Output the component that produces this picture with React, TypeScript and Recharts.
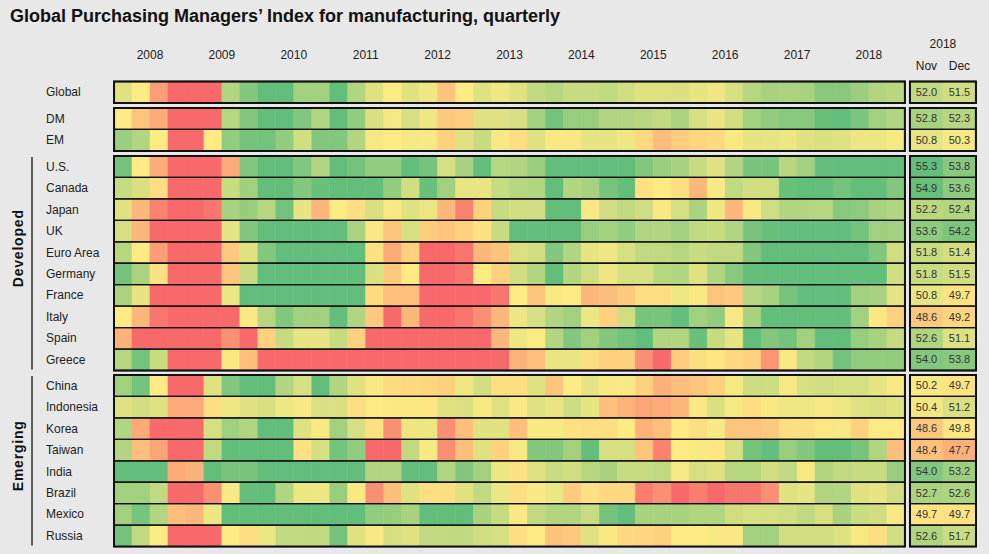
import { BarChart, Bar, XAxis, YAxis, Cell, LabelList, ReferenceArea } from "recharts";

const TITLE = "Global Purchasing Managers’ Index for manufacturing, quarterly";
const YEARS = ["2008", "2009", "2010", "2011", "2012", "2013", "2014", "2015", "2016", "2017", "2018"];
const MONTH_YEAR = "2018";
const MONTHS = ["Nov", "Dec"];

const ROWS = [
  "Global", "DM", "EM",
  "U.S.", "Canada", "Japan", "UK", "Euro Area", "Germany", "France", "Italy", "Spain", "Greece",
  "China", "Indonesia", "Korea", "Taiwan", "India", "Brazil", "Mexico", "Russia",
];

const NOV = [52.0, 52.8, 50.8, 55.3, 54.9, 52.2, 53.6, 51.8, 51.8, 50.8, 48.6, 52.6, 54.0, 50.2, 50.4, 48.6, 48.4, 54.0, 52.7, 49.7, 52.6];
const DEC = [51.5, 52.3, 50.3, 53.8, 53.6, 52.4, 54.2, 51.4, 51.5, 49.7, 49.2, 51.1, 53.8, 49.7, 51.2, 49.8, 47.7, 53.2, 52.6, 49.7, 51.7];

// quarterly PMI, 2008 Q1 .. 2018 Q4
const Q_GLOBAL = [51, 50, 47, 44, 44, 44.5, 52.5, 54, 55, 55, 53, 53, 55, 52.5, 51, 50, 51, 50.5, 48.5, 50, 51, 50.5, 51, 52, 52.3, 51.8, 51.8, 52, 51.5, 51, 51, 51.2, 50.8, 50.5, 51.3, 52.3, 52.8, 52.7, 52.8, 53.8, 53.8, 53.2, 52.5, 52.2];
const Q_DM = [50, 48.5, 47.5, 44, 44, 44, 52.3, 54, 55, 55, 54, 52.5, 55, 53.5, 51.2, 50.3, 51.3, 50.5, 48.7, 48.8, 51, 51, 51.3, 53, 54.5, 53.3, 53.3, 52.5, 52.5, 52.2, 52, 52.7, 51.3, 50.7, 51.5, 53, 53.5, 53.8, 53.8, 54.8, 55, 54.2, 53, 52.5];
const Q_EM = [53.2, 52.5, 50, 44, 44, 50, 53.5, 54.5, 54.5, 53.5, 51.5, 54, 54, 52.5, 50.3, 50, 50.3, 50.2, 49, 51, 51.8, 50.3, 49.5, 51, 50.2, 50.2, 50.8, 50.8, 50.5, 49.3, 48.2, 48.8, 49.2, 49.3, 50.2, 50.8, 50.8, 50.6, 51, 51.2, 51, 50.6, 50.6, 50.3];
const Q_US = [54.5, 50, 47.5, 44, 44, 44, 47.5, 54, 55, 55, 54, 52.5, 55, 54.5, 53.5, 53.5, 55, 54.5, 51.3, 52.8, 55, 52.3, 52.5, 53.2, 55, 55, 55, 55, 55, 54, 53.2, 52.8, 51.8, 51, 52.5, 54.3, 54.3, 52.3, 53, 55.5, 55.5, 55.5, 55.5, 55.5];
const Q_CANADA = [51.8, 51.2, 49.5, 44, 44, 45, 51.8, 53, 55, 55, 54, 54.8, 55, 55, 55, 53.5, 51.5, 54.8, 53, 50.7, 50.7, 51.8, 52.3, 52.5, 55, 52.5, 52.8, 54.3, 55, 49.6, 50, 49.5, 48, 50.2, 52, 51.5, 51.5, 54.8, 55, 55, 54.5, 55, 55, 54];
const Q_JAPAN = [51, 48, 46, 44, 44, 45.5, 52.8, 53.3, 52.3, 54.5, 50.8, 48, 50, 49.5, 51.2, 50.2, 51, 50.6, 48, 46, 49, 51.8, 51.5, 51.5, 55, 55, 50.2, 51.5, 52, 51.5, 50.2, 51.3, 52.7, 50.4, 48, 50.2, 51.5, 52.5, 52.5, 52.3, 53.8, 53.6, 52.8, 52.5];
const Q_UK = [51.3, 48, 44, 44, 44, 44, 50.8, 54, 55, 55, 55, 55, 55, 52.7, 50.2, 48.5, 51.3, 48.8, 48.5, 49, 49.6, 51.8, 55, 55, 55, 55, 53.3, 53, 53.5, 52.5, 52.5, 53, 52, 51.8, 52.5, 54.3, 54.8, 55, 55, 55, 55, 54.5, 53, 53];
const Q_EURO = [52.3, 50, 47, 44, 44, 44, 48.7, 51, 54, 55, 55, 55, 55, 55, 49.6, 47.5, 49, 44.5, 44.5, 45.5, 48, 48.5, 51.2, 51.5, 54, 52.5, 50.8, 50.5, 51.3, 52, 52, 52.3, 51.8, 52, 52, 54, 55.5, 55.5, 55.5, 55.5, 55.5, 55.5, 54, 51.5];
const Q_GERMANY = [54.5, 52.7, 49.6, 44, 44, 44, 48.5, 51.8, 55.5, 55.5, 55.5, 55.5, 55.5, 55.5, 51.2, 48.7, 50, 44.5, 44.5, 45.5, 50, 49, 51.5, 52.5, 55, 52.5, 51.5, 50.6, 51.3, 51.3, 52.3, 52.5, 51, 52.5, 53.8, 55.5, 55.5, 55.5, 55.5, 55.5, 55.5, 55.5, 55.5, 51.5];
const Q_FRANCE = [52.7, 50.8, 44.5, 44, 44, 44, 50.6, 55, 55, 55, 55, 55, 55, 55, 49.4, 48.3, 48.3, 45, 44.3, 44.3, 44.3, 45.5, 50, 48.5, 50.2, 50, 48, 48.2, 48.7, 49.5, 49.5, 50.5, 50.2, 48.5, 48.7, 52.3, 52.8, 54.3, 55, 55, 55, 53, 52.8, 50.8];
const Q_ITALY = [50, 48, 45.5, 44, 44, 44.5, 45, 50.2, 52.3, 54, 53, 53, 55, 52.5, 48.7, 44.5, 48, 44.5, 44.5, 45.5, 46.5, 48, 50.6, 51.3, 52.5, 53, 50.6, 49, 51.5, 54.3, 54.3, 55, 53, 53.5, 50.3, 52.8, 55, 55.5, 55.5, 55.5, 55.5, 53, 50.2, 49];
const Q_SPAIN = [47.8, 44, 44, 44, 44, 44, 46.5, 45, 49, 51.8, 50.8, 50.8, 51.8, 49, 44, 44, 44, 44, 44, 44, 45, 48, 50.6, 50, 52.5, 54, 53, 54, 54.5, 55, 52.5, 52.5, 54.8, 51.8, 50.8, 55, 54, 54.5, 53, 55, 55, 53.3, 52.8, 51.8];
const Q_GREECE = [52.3, 54.5, 51.8, 44, 44, 44, 50.2, 48.3, 44, 44, 44, 44, 44, 44.5, 44, 44, 44, 44, 44, 44, 44, 44, 47.8, 48.3, 50.7, 50.7, 49.5, 49, 49, 46.5, 44, 48.8, 49.5, 49.8, 49.3, 49, 46.7, 50.2, 52, 52.5, 54.5, 53.5, 53.5, 53.5];
const Q_CHINA = [53, 54.5, 50, 44, 44, 51, 54, 55, 55, 52.5, 51.3, 55, 52.5, 51, 50.2, 49.4, 49.3, 49.2, 49, 50.5, 51.4, 49.5, 49.5, 51, 48.5, 50, 50.8, 50.2, 50.2, 49, 47.8, 48.3, 48.5, 49, 50.3, 51.6, 51.6, 50.3, 51.3, 51.5, 51.3, 51.3, 50.8, 50.2];
const Q_INDONESIA = [51, 51.5, 51, 47.5, 47.5, 49.5, 50.5, 51, 51.2, 50.5, 50.2, 51.2, 51.2, 49.5, 50, 50.2, 50.2, 49.8, 51, 51.2, 50.3, 51, 50.2, 51, 50.7, 51.6, 50.8, 48.3, 47.8, 47.3, 47.5, 48, 50.2, 51.2, 50.3, 49.5, 50.2, 50.5, 50.5, 50.3, 50.5, 51, 51.2, 51];
const Q_KOREA = [52.5, 47.5, 44.5, 44, 44.5, 51.3, 53, 52.5, 55, 55, 51, 50.2, 53, 51.3, 49.6, 46.5, 50.6, 50.6, 46.5, 48.3, 51, 51, 48.3, 50.2, 50.2, 49.6, 49.5, 49.5, 50, 47.8, 48.3, 50, 49.5, 50.2, 48.5, 48.5, 48.7, 49.5, 49.5, 49.9, 50.2, 49, 50, 50];
const Q_TAIWAN = [52.5, 48.3, 47.3, 44, 44, 52, 55, 55, 55, 55, 49.6, 51.3, 54.5, 53.5, 44.3, 44.3, 52, 50.2, 46.5, 48.3, 51, 49, 50.2, 54, 54, 53, 55, 51.3, 51.3, 48.5, 46, 50, 50.2, 49.8, 51.3, 54.5, 55, 53.3, 54, 55.5, 55.5, 54.3, 52.5, 48.3];
const Q_INDIA = [55.5, 55.5, 55.5, 47.5, 47.8, 55, 54.3, 54.3, 55.5, 55.5, 55.5, 55.5, 55.5, 55.5, 52.5, 52.5, 55, 55, 52.5, 54, 53, 50.6, 49.6, 51, 51.7, 51.5, 52.3, 52.8, 51.8, 51.8, 52, 50.3, 51.3, 51, 52.3, 52.3, 51.5, 52, 50.3, 52.5, 52, 51.8, 51.8, 53.3];
const Q_BRAZIL = [53, 53, 52, 44, 44, 46.5, 50.2, 55, 55, 52.5, 50.6, 50.6, 53.3, 50.2, 46.5, 48.3, 51, 49.5, 49.5, 51, 52, 50.6, 49.5, 50.2, 50.6, 48.8, 49.6, 49.3, 49.3, 45.8, 46.5, 43.8, 45.8, 44, 45.5, 45.5, 46.5, 51, 50.8, 52.5, 52.5, 51, 50.8, 51.5];
const Q_MEXICO = [53, 54.3, 52.5, 48.3, 48, 50.6, 55, 55, 55, 55, 55, 55, 55, 55, 53.5, 53.3, 52.8, 55, 55, 55, 52.8, 51.8, 50.2, 52, 52.5, 52.5, 51.7, 54.5, 55, 52.8, 52.8, 52.8, 52.5, 52.5, 51.5, 51.3, 51.3, 51.5, 52, 51.3, 52.8, 51.7, 51.5, 50.2];
const Q_RUSSIA = [54.5, 52, 50, 44, 44, 45, 50, 49.5, 50.6, 52, 52, 52, 54.5, 51, 50.2, 51.3, 51, 52, 52, 52, 51.5, 51.3, 49.5, 50, 48.5, 48.7, 51, 50.2, 49.3, 49.2, 49, 50, 50, 50.2, 50.2, 53, 53, 51.5, 51.5, 51.5, 51, 50.3, 49.5, 51.5];

const QUARTERLY = [
  Q_GLOBAL, Q_DM, Q_EM,
  Q_US, Q_CANADA, Q_JAPAN, Q_UK, Q_EURO, Q_GERMANY, Q_FRANCE, Q_ITALY, Q_SPAIN, Q_GREECE,
  Q_CHINA, Q_INDONESIA, Q_KOREA, Q_TAIWAN, Q_INDIA, Q_BRAZIL, Q_MEXICO, Q_RUSSIA,
];

const GROUPS = [
  { rows: [0], title: "", shift: 0 },
  { rows: [1, 2], title: "", shift: 0 },
  { rows: [3, 4, 5, 6, 7, 8, 9, 10, 11, 12], title: "Developed", shift: -15 },
  { rows: [13, 14, 15, 16, 17, 18, 19, 20], title: "Emerging", shift: -5 },
];

// layout
const W = 989;
const H = 554;
const PLOT_LEFT = 114;
const PLOT_RIGHT = 976;
const NQ = 44;
const GAP_U = 0.28;
const MONTH_U = 1.836;
const TOTAL_U = NQ + GAP_U + 2 * MONTH_U;
const ROW_H = 21.45;
const BOX_TOPS = [81.5, 108, 156, 375];
const HEADER_TOP = 30;
const HEADER_H = 51.5;
const FONT = "'Liberation Sans', Arial, sans-serif";

function mix(a: number[], b: number[], t: number) {
  const c = a.map((v, i) => Math.round(v + (b[i] - v) * t));
  return `rgb(${c[0]},${c[1]},${c[2]})`;
}

const RED = [248, 105, 107];
const YEL = [255, 235, 132];
const GRN = [99, 190, 123];

function pmiColor(v: number) {
  if (v <= 50) return mix(RED, YEL, Math.max(0, (v - 45) / 5));
  return mix(YEL, GRN, Math.min(1, (v - 50) / 5));
}

const HEADER_TICKS = [
  ...YEARS.map((y, k) => ({ v: 4 * k + 2, text: y, dy: -22 })),
  { v: NQ + GAP_U + MONTH_U, text: MONTH_YEAR, dy: -33 },
  ...MONTHS.map((m, k) => ({ v: NQ + GAP_U + MONTH_U * (k + 0.5), text: m, dy: -11 })),
];

function HeaderTick(p: any) {
  const t = HEADER_TICKS.find((h) => Math.abs(h.v - p.payload.value) < 0.01);
  if (!t) return null;
  return (
    <text x={p.x} y={p.y + t.dy} textAnchor="middle" fontSize={12} fill="#222" fontFamily={FONT}>
      {t.text}
    </text>
  );
}

function RowTick(p: any) {
  return (
    <text x={p.x - 68} y={p.y} dy={4} textAnchor="start" fontSize={12} fill="#222" fontFamily={FONT}>
      {p.payload.value}
    </text>
  );
}

function groupLabel(title: string, shift: number) {
  return (props: any) => {
    const vb = props.viewBox;
    const cy = vb.y + vb.height / 2 + shift;
    return (
      <g>
        <line x1={32} x2={32} y1={vb.y + 1} y2={vb.y + vb.height - 1} stroke="#111" strokeWidth={1.3} />
        <text
          x={23}
          y={cy}
          transform={`rotate(-90 23 ${cy})`}
          textAnchor="middle"
          fontSize={14}
          fontWeight="bold"
          letterSpacing={0.8}
          fill="#111"
          fontFamily={FONT}
        >
          {title}
        </text>
      </g>
    );
  };
}

const OUTLINE = { fill: "none", stroke: "#111", ifOverflow: "visible" as const, zIndex: 2000 };

function GroupChart({ gi }: { gi: number }) {
  const g = GROUPS[gi];
  const header = gi === 0;
  const data = g.rows.map((r) => {
    const row: any = { name: ROWS[r], gap: GAP_U, nov: MONTH_U, dec: MONTH_U };
    QUARTERLY[r].forEach((_, i) => (row[`q${i}`] = 1));
    row.novText = NOV[r].toFixed(1);
    row.decText = DEC[r].toFixed(1);
    return row;
  });
  const padTop = header ? HEADER_TOP : 2;
  const plotTop = header ? HEADER_TOP + HEADER_H : padTop;
  const height = plotTop + g.rows.length * ROW_H + 3;
  const top = BOX_TOPS[gi] - plotTop;
  const first = ROWS[g.rows[0]];
  const last = ROWS[g.rows[g.rows.length - 1]];

  return (
    <div style={{ position: "absolute", left: 0, top }}>
      <BarChart
        width={W}
        height={height}
        data={data}
        layout="vertical"
        barCategoryGap={0}
        barGap={0}
        margin={{ top: padTop, right: W - PLOT_RIGHT, bottom: 3, left: 0 }}
      >
        {header ? (
          <XAxis
            type="number"
            orientation="top"
            domain={[0, TOTAL_U]}
            ticks={HEADER_TICKS.map((h) => h.v)}
            interval={0}
            height={HEADER_H}
            axisLine={false}
            tickLine={false}
            tickSize={0}
            tickMargin={0}
            tick={<HeaderTick />}
          />
        ) : (
          <XAxis type="number" domain={[0, TOTAL_U]} hide />
        )}
        <YAxis
          type="category"
          dataKey="name"
          width={PLOT_LEFT}
          interval={0}
          axisLine={false}
          tickLine={false}
          tickSize={0}
          tickMargin={0}
          tick={<RowTick />}
          label={g.title ? groupLabel(g.title, g.shift) : undefined}
        />
        {QUARTERLY[0].map((_, i) => (
          <Bar key={i} dataKey={`q${i}`} stackId="s" isAnimationActive={false}>
            {g.rows.map((r) => {
              const c = pmiColor(QUARTERLY[r][i]);
              return <Cell key={r} fill={c} stroke={c} strokeWidth={0.5} />;
            })}
          </Bar>
        ))}
        <Bar dataKey="gap" stackId="s" fill="none" isAnimationActive={false} />
        <Bar dataKey="nov" stackId="s" isAnimationActive={false}>
          {g.rows.map((r) => {
            const c = pmiColor(NOV[r]);
            return <Cell key={r} fill={c} stroke={c} strokeWidth={0.5} />;
          })}
          <LabelList dataKey="novText" position="center" fill="#333" fontSize={11} fontFamily={FONT} />
        </Bar>
        <Bar dataKey="dec" stackId="s" isAnimationActive={false}>
          {g.rows.map((r) => {
            const c = pmiColor(DEC[r]);
            return <Cell key={r} fill={c} stroke={c} strokeWidth={0.5} />;
          })}
          <LabelList dataKey="decText" position="center" fill="#333" fontSize={11} fontFamily={FONT} />
        </Bar>
        {g.rows.map((r) => (
          <ReferenceArea key={`a${r}`} {...OUTLINE} y1={ROWS[r]} y2={ROWS[r]} x1={0} x2={NQ} strokeWidth={1.3} />
        ))}
        {g.rows.map((r) => (
          <ReferenceArea key={`b${r}`} {...OUTLINE} y1={ROWS[r]} y2={ROWS[r]} x1={NQ + GAP_U} x2={TOTAL_U} strokeWidth={1.3} />
        ))}
        <ReferenceArea {...OUTLINE} y1={first} y2={last} x1={0} x2={NQ} strokeWidth={2} />
        <ReferenceArea {...OUTLINE} y1={first} y2={last} x1={NQ + GAP_U} x2={TOTAL_U} strokeWidth={2} />
      </BarChart>
    </div>
  );
}

export default function App() {
  return (
    <div
      style={{
        position: "absolute",
        left: 0,
        top: 0,
        width: W,
        height: H,
        background: "#e8e8e8",
        fontFamily: FONT,
        overflow: "hidden",
      }}
    >
      <div
        style={{
          position: "absolute",
          left: 10,
          top: 6,
          fontSize: 18,
          lineHeight: "20px",
          fontWeight: "bold",
          color: "#111",
          whiteSpace: "nowrap",
        }}
      >
        {TITLE}
      </div>
      {GROUPS.map((_, gi) => (
        <GroupChart key={gi} gi={gi} />
      ))}
    </div>
  );
}
